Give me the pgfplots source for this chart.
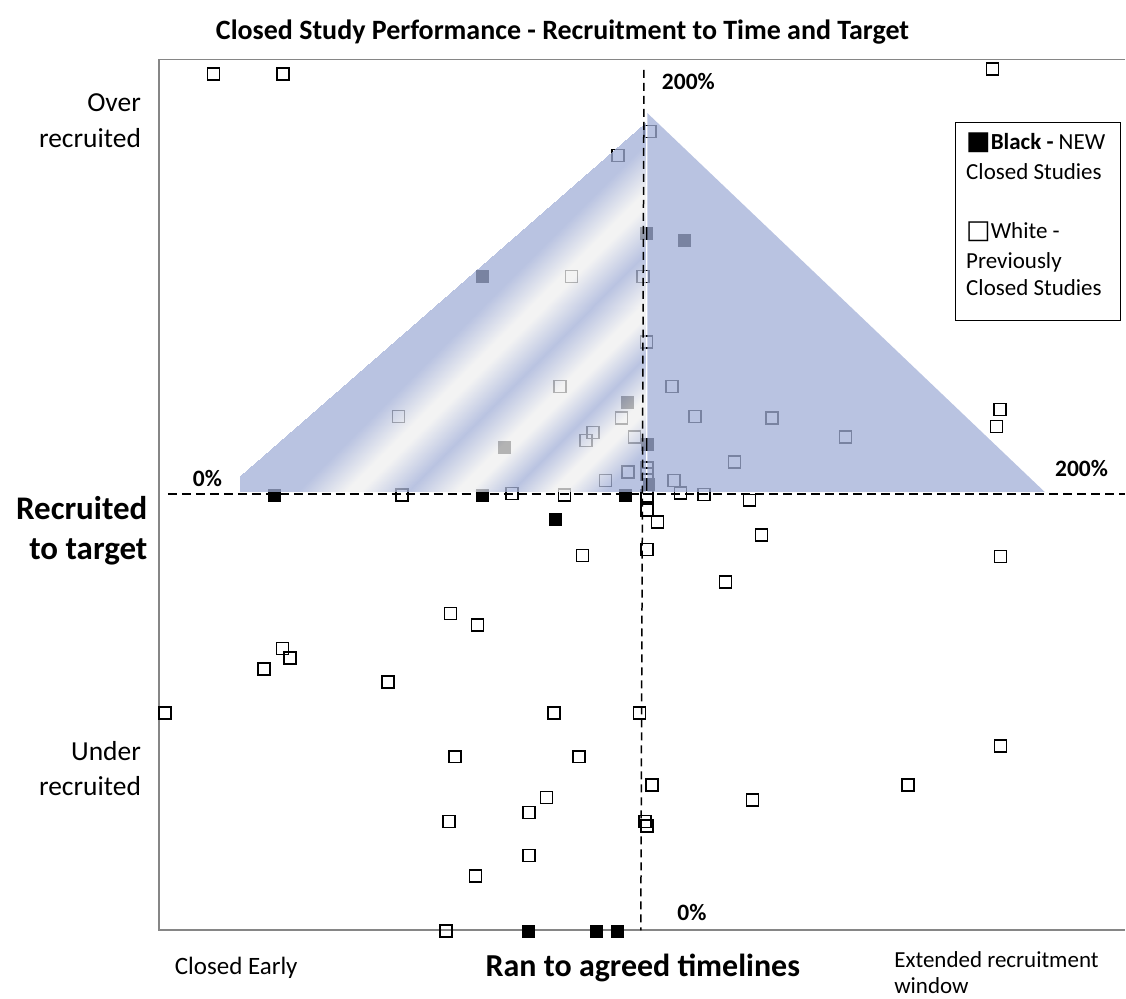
\documentclass[border=0pt]{standalone}
\usepackage{pgfplots}
\pgfplotsset{compat=1.18}
\usepackage{fontspec}
\setmainfont{Carlito}
\newfontfamily\symfont{DejaVu Sans}

\definecolor{framegray}{RGB}{134,134,134}
\definecolor{zoneblue}{RGB}{162,175,215}

% positions are in pixels of the original chart (x right, y down)
\pgfplotstableread{
x y
213.6 74
283.2 74
993.2 69
650.3 131.7
618.7 155.7
572.0 276.7
643.3 276.7
647.0 342.3
560.3 386.7
672.3 386.7
398.7 416.7
622.0 418.3
695.7 416.7
772.6 418.3
593.7 432.7
586.7 440.7
635.0 437.3
846.3 437.3
735.0 462.3
628.3 472.3
647.5 468.5
647.5 474.5
606.0 480.7
674.3 480.7
1001.0 410.0
997.3 426.7
402.3 495.5
512.3 494.0
564.8 495.5
647.5 496.5
681.0 493.5
704.3 495.0
750.2 500.7
647.4 510.5
658.2 522.7
762.0 535.3
582.8 556.0
647.4 550.0
1001.2 557.0
726.0 582.5
451.0 614.0
477.9 625.7
282.9 649.0
290.4 658.3
264.3 669.3
388.2 682.7
165.4 713.3
554.3 713.3
640.0 713.3
1001.2 746.7
455.4 757.3
579.2 757.3
652.6 785.7
908.7 785.7
547.1 798.3
753.1 800.7
529.3 813.3
449.3 822.3
645.6 822.3
647.3 826.7
529.3 856.0
476.0 876.7
446.4 931.7
}\previous

\pgfplotstableread{
x y
647.0 233.3
685.0 240.0
482.7 276.7
627.7 402.3
504.3 447.7
647.7 445.0
649.3 485.0
274.3 495.5
482.7 495.5
625.3 495.5
556.0 519.3
528.6 931.7
597.1 931.7
617.9 931.7
}\newstudies

% left half of the zone, meta = x + y drives the diagonal stripes
\pgfplotstableread{
x y c
240.0 476.7 716.7
645.4 123.0 768.4
646.5 492.3 1138.8
645.4 123.0 768.4
646.5 123.0 769.5
646.5 492.3 1138.8
240.0 476.7 716.7
646.5 492.3 1138.8
240.0 492.3 732.3
}\leftzone

\tikzset{lbl/.style={inner sep=0pt, outer sep=0pt}}

\begin{document}
\begin{tikzpicture}
\begin{axis}[
  scale only axis,
  width=563pt, height=499.5pt,
  xmin=0, xmax=1126, ymin=0, ymax=999,
  y dir=reverse,
  hide axis, clip=false,
  clip marker paths=true,
  point meta min=700, point meta max=1150,
  colormap={stripes}{
    rgb255(700pt)=(162,175,215)
    rgb255(790pt)=(162,175,215)
    rgb255(838pt)=(239,239,239)
    rgb255(852pt)=(239,239,239)
    rgb255(900pt)=(162,175,215)
    rgb255(948pt)=(239,239,239)
    rgb255(962pt)=(239,239,239)
    rgb255(1003pt)=(162,175,215)
    rgb255(1043pt)=(239,239,239)
    rgb255(1057pt)=(239,239,239)
    rgb255(1097pt)=(162,175,215)
    rgb255(1150pt)=(162,175,215)
  },
]
\path (axis cs:0,0) rectangle (axis cs:1126,999);

% frame
\addplot[framegray, line width=0.9pt] coordinates {(1126,59.5) (159.5,59.5) (159.5,931) (1126,931)};

% studies
\addplot[only marks, mark=square, mark size=3pt,
  mark options={draw=black, line width=0.8pt}] table {\previous};
\addplot[only marks, mark=square*, mark size=3pt,
  mark options={draw=black, fill=black, line width=0.3pt}] table {\newstudies};

% shaded zone on top of the markers
\addplot[patch, patch type=triangle, shader=interp, point meta=explicit,
  fill opacity=0.75] table[meta=c] {\leftzone};
\addplot[draw=none, fill=zoneblue, fill opacity=0.75]
  coordinates {(648,113.3) (1045.5,492.3) (648,492.3)} -- cycle;

% reference lines
\addplot[black, line width=0.75pt, dash pattern=on 4.5pt off 2.5pt]
  coordinates {(168,494.3) (1126,494.3)};
\addplot[black, line width=0.75pt, dash pattern=on 4pt off 2.5pt]
  coordinates {(644.5,70) (641.3,931)};

% title
\node[lbl, anchor=base, font=\fontsize{14}{17}\selectfont\bfseries]
  at (axis cs:563,40) {Closed Study Performance - Recruitment to Time and Target};

% y side labels
\node[lbl, anchor=base east, font=\fontsize{13.75}{18}\selectfont] at (axis cs:141,112) {Over};
\node[lbl, anchor=base east, font=\fontsize{13.75}{18}\selectfont] at (axis cs:141,147.5) {recruited};
\node[lbl, anchor=base east, font=\fontsize{16.5}{20}\selectfont\bfseries] at (axis cs:147.5,520) {Recruited};
\node[lbl, anchor=base east, font=\fontsize{16.5}{20}\selectfont\bfseries] at (axis cs:147.5,560) {to target};
\node[lbl, anchor=base east, font=\fontsize{13.75}{18}\selectfont] at (axis cs:141,761) {Under};
\node[lbl, anchor=base east, font=\fontsize{13.75}{18}\selectfont] at (axis cs:141,796) {recruited};

% x side labels
\node[lbl, anchor=base west, font=\fontsize{12.5}{15}\selectfont] at (axis cs:175,975) {Closed Early};
\node[lbl, anchor=base west, font=\fontsize{16}{19}\selectfont\bfseries] at (axis cs:486,977) {Ran to agreed timelines};
\node[lbl, anchor=base west, font=\fontsize{11.5}{14}\selectfont] at (axis cs:895,968) {Extended recruitment};
\node[lbl, anchor=base west, font=\fontsize{11.5}{14}\selectfont] at (axis cs:895,994) {window};

% percentage marks
\node[lbl, anchor=base west, font=\fontsize{11.75}{14}\selectfont\bfseries] at (axis cs:193,486.7) {0\%};
\node[lbl, anchor=base west, font=\fontsize{11.75}{14}\selectfont\bfseries] at (axis cs:662.5,90) {200\%};
\node[lbl, anchor=base west, font=\fontsize{11.75}{14}\selectfont\bfseries] at (axis cs:1056,476.7) {200\%};
\node[lbl, anchor=base west, font=\fontsize{11.75}{14}\selectfont\bfseries] at (axis cs:678,921.7) {0\%};

% key box
\draw[black, line width=0.75pt, fill=white] (axis cs:956,122.7) rectangle (axis cs:1121.4,321);
\node[lbl, anchor=base west, font=\fontsize{11.5}{14}\selectfont] at (axis cs:967,150)
  {{\fontsize{13}{14}\symfont ■}\textbf{Black -} NEW};
\node[lbl, anchor=base west, font=\fontsize{11.5}{14}\selectfont] at (axis cs:967,179.3) {Closed Studies};
\node[lbl, anchor=base west, font=\fontsize{11.5}{14}\selectfont] at (axis cs:967,238.3)
  {{\fontsize{13}{14}\symfont □}White -};
\node[lbl, anchor=base west, font=\fontsize{11.5}{14}\selectfont] at (axis cs:967,268.3) {Previously};
\node[lbl, anchor=base west, font=\fontsize{11.5}{14}\selectfont] at (axis cs:967,296) {Closed Studies};
\end{axis}
\end{tikzpicture}
\end{document}
